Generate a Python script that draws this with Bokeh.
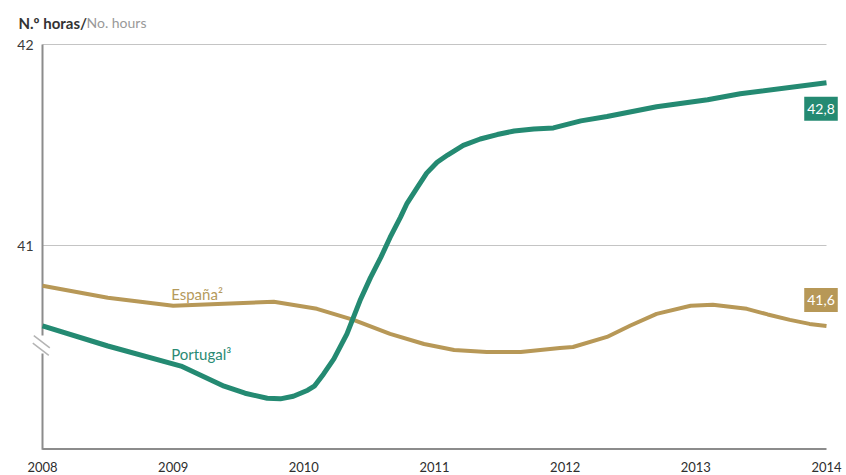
from bokeh.plotting import figure
from bokeh.models import Range1d, Label
from bokeh.core.properties import value
from bokeh.embed import file_html
from bokeh.resources import INLINE

# ---- data ----
x_ticks = [2008, 2009, 2010, 2011, 2012, 2013, 2014]
x_tick_labels = ["2008", "2009", "2010", "2011", "2012", "2013", "2014"]
y_ticks = [41, 42]
y_tick_labels = ["41", "42"]

pt_years = [2008.0, 2008.5, 2009.06, 2009.39, 2009.55, 2009.72, 2009.82, 2009.92,
            2010.03, 2010.08, 2010.15, 2010.23, 2010.33, 2010.43, 2010.51, 2010.59,
            2010.66, 2010.74, 2010.79, 2010.87, 2010.94, 2011.02, 2011.10, 2011.22,
            2011.35, 2011.48, 2011.61, 2011.76, 2011.91, 2012.12, 2012.32, 2012.70,
            2013.09, 2013.34, 2014.0]
pt_values = [40.60, 40.50, 40.40, 40.30, 40.265, 40.24, 40.237, 40.25,
             40.28, 40.30, 40.36, 40.436, 40.56, 40.726, 40.84, 40.942,
             41.04, 41.141, 41.21, 41.29, 41.36, 41.414, 41.45, 41.498,
             41.53, 41.552, 41.57, 41.58, 41.585, 41.62, 41.642, 41.69,
             41.725, 41.755, 41.81]

es_years = [2008.0, 2008.5, 2009.0, 2009.39, 2009.77, 2010.1, 2010.38, 2010.66,
            2010.92, 2011.15, 2011.40, 2011.66, 2011.96, 2012.06, 2012.32, 2012.50,
            2012.70, 2012.96, 2013.13, 2013.39, 2013.55, 2013.72, 2013.87, 2014.0]
es_values = [40.80, 40.74, 40.70, 40.71, 40.72, 40.685, 40.63, 40.56,
             40.51, 40.48, 40.47, 40.47, 40.49, 40.495, 40.545, 40.602,
             40.66, 40.70, 40.705, 40.685, 40.657, 40.63, 40.61, 40.60]

pt_label = "42,8"
es_label = "41,6"

TEAL = "#248a72"
GOLD = "#b79857"
AXIS = "#8c8c8c"
FONT = "Lato"

# pixel geometry of the reference: 2008 at x=42, 2014 at x=826; 42 at y=44, 41 at y=245
W, H = 846, 475
px_year = (826 - 42) / 6.0
px_unit = 201.0
x0 = 2008 - 42 / px_year
x1 = 2008 + (W - 42) / px_year
y1 = 42 + 44 / px_unit
y0 = 42 - (H - 44) / px_unit
y_axis_base = 42 - (448.5 - 44) / px_unit   # value at which the x axis line sits

p = figure(width=W, height=H, output_backend="svg", toolbar_location=None,
           x_range=Range1d(x0, x1), y_range=Range1d(y0, y1),
           min_border=0, min_border_left=0, min_border_right=0,
           min_border_top=0, min_border_bottom=0)
p.outline_line_color = None
p.axis.visible = False
p.grid.visible = False

# gridlines
p.segment(x0=[x_ticks[0]] * len(y_ticks), x1=[x_ticks[-1]] * len(y_ticks),
          y0=y_ticks, y1=y_ticks, line_color="#c4c4c4", line_width=1)

# axis lines (left axis with break)
brk_hi, brk_lo = 40.552, 40.463
p.segment(x0=[x_ticks[0]], x1=[x_ticks[-1]], y0=[y_axis_base], y1=[y_axis_base],
          line_color=AXIS, line_width=2)
p.segment(x0=[x_ticks[0], x_ticks[0]], x1=[x_ticks[0], x_ticks[0]],
          y0=[y_axis_base - 0.004, brk_hi], y1=[brk_lo, y_ticks[-1]],
          line_color=AXIS, line_width=2)
dx = 1.0 / px_year
p.segment(x0=[2008 - 8.7 * dx, 2008 - 9.7 * dx], x1=[2008 + 7.3 * dx, 2008 + 6.3 * dx],
          y0=[40.552, 40.514], y1=[40.491, 40.453],
          line_color="#b4b4b4", line_width=1.5)

# tick labels
p.text(x=[x_ticks[0]] * len(y_ticks), y=y_ticks, text=y_tick_labels, x_offset=-9,
       text_font=value(FONT), text_font_size="14px", text_color="#3a3a3a",
       text_align="right", text_baseline="middle")
p.text(x=x_ticks, y=[y_axis_base] * len(x_ticks), text=x_tick_labels, y_offset=18,
       text_font=value(FONT), text_font_size="13px", text_color="#2e2e2e",
       text_align="center", text_baseline="middle")

# series
p.line(es_years, es_values, line_color=GOLD, line_width=4, line_join="round")
p.line(pt_years, pt_values, line_color=TEAL, line_width=5, line_join="round")

# title
p.text(x=[2008], y=[42], text=["N.º horas/"], x_offset=-24, y_offset=-22,
       text_font=value(FONT), text_font_size="15px", text_font_style="bold",
       text_color="#333333", text_align="left", text_baseline="alphabetic")
p.text(x=[2008], y=[42], text=["No. hours"], x_offset=44, y_offset=-22,
       text_font=value(FONT), text_font_size="14px",
       text_color="#999999", text_align="left", text_baseline="alphabetic")

# series labels
p.text(x=[2009], y=[40.761], text=["España²"], x_offset=-2,
       text_font=value(FONT), text_font_size="15px", text_color="#b59a5c",
       text_align="left", text_baseline="alphabetic")
p.text(x=[2009], y=[40.461], text=["Portugal³"], x_offset=-2,
       text_font=value(FONT), text_font_size="15px", text_color="#2a8b74",
       text_align="left", text_baseline="alphabetic")

# end value boxes
p.add_layout(Label(x=pt_years[-1], y=pt_values[-1], x_offset=-5.5, y_offset=-26, text=pt_label,
                   text_font=FONT, text_font_size="14px", text_color="white",
                   text_align="center", text_baseline="middle",
                   background_fill_color=TEAL, padding=(3, 7)))
p.add_layout(Label(x=es_years[-1], y=es_values[-1], x_offset=-5.5, y_offset=26, text=es_label,
                   text_font=FONT, text_font_size="14px", text_color="white",
                   text_align="center", text_baseline="middle",
                   background_fill_color=GOLD, padding=(3, 7)))

open("out.html", "w").write(file_html(p, INLINE))
